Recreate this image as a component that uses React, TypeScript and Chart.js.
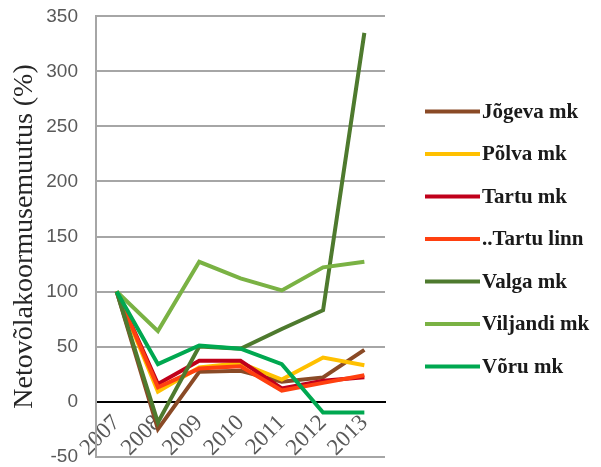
import React, { useEffect, useRef } from "react";
import { Chart, registerables } from "chart.js";

Chart.register(...registerables);

const years = ["2007", "2008", "2009", "2010", "2011", "2012", "2013"];
const seriesNames = ["Jõgeva mk", "Põlva mk", "Tartu mk", "..Tartu linn", "Valga mk", "Viljandi mk", "Võru mk"];
const jogeva = [100, -25, 27, 28, 18, 22, 47];
const polva = [100, 9, 31, 35, 20, 40, 33];
const tartuMk = [100, 16, 37, 37, 12, 19, 22];
const tartuLinn = [100, 13, 30, 32, 10, 17, 24];
const valga = [100, -19, 50, 48, 66, 83, 335];
const viljandi = [100, 64, 127, 112, 101, 122, 127];
const voru = [100, 34, 51, 48, 34, -10, -10];
const seriesColors = ["#8A4A26", "#FFC000", "#C0001A", "#FF4010", "#4E7A2E", "#7AB244", "#00A850"];
const yTicks = [-50, 0, 50, 100, 150, 200, 250, 300, 350];

const sideLegend = {
  id: "sideLegend",
  afterDraw(chart: any) {
    const ctx = chart.ctx;
    const area = chart.chartArea;
    const x0 = area.right + 40;
    const lineLen = 55;
    ctx.save();
    ctx.font = "bold 21px 'Liberation Serif', 'Times New Roman', serif";
    ctx.textBaseline = "middle";
    ctx.textAlign = "left";
    chart.data.datasets.forEach((ds: any, i: number) => {
      const y = area.top + 95 + i * 42.5;
      ctx.strokeStyle = ds.borderColor;
      ctx.lineWidth = 4;
      ctx.beginPath();
      ctx.moveTo(x0, y);
      ctx.lineTo(x0 + lineLen, y);
      ctx.stroke();
      ctx.fillStyle = "#1a1a1a";
      ctx.fillText(ds.label, x0 + lineLen + 2, y + 1);
    });
    ctx.restore();
  },
};

export default function App() {
  const ref = useRef<HTMLCanvasElement | null>(null);
  useEffect(() => {
    if (!ref.current) return;
    const allData = [jogeva, polva, tartuMk, tartuLinn, valga, viljandi, voru];
    const chart = new Chart(ref.current, {
      type: "line",
      data: {
        labels: years,
        datasets: allData.map((d, i) => ({
          label: seriesNames[i],
          data: d,
          borderColor: seriesColors[i],
          backgroundColor: seriesColors[i],
          borderWidth: 4,
          pointRadius: 0,
          tension: 0,
          order: allData.length - i,
        })),
      },
      plugins: [sideLegend],
      options: {
        animation: false,
        responsive: true,
        maintainAspectRatio: false,
        layout: { autoPadding: false, padding: { left: 8, top: 2, bottom: 8, right: 216 } },
        plugins: {
          tooltip: { enabled: false },
          legend: { display: false },
        },
        scales: {
          x: {
            type: "category",
            offset: true,
            position: { y: 0 } as any,
            grid: { display: false, drawTicks: false },
            border: { display: true, color: "#000000", width: 2 },
            ticks: {
              autoSkip: false,
              minRotation: 45,
              maxRotation: 45,
              padding: 8,
              color: "#595959",
              font: { family: "'Liberation Serif', 'Times New Roman', serif", size: 23 },
            },
          },
          y: {
            min: -50,
            max: 350,
            afterBuildTicks: (s: any) => {
              s.ticks = yTicks.map((v) => ({ value: v }));
            },
            afterFit: (s: any) => {
              s.width = 88;
            },
            grid: { color: "#A6A6A6", lineWidth: 2, drawTicks: false },
            border: { display: true, color: "#A6A6A6", width: 2 },
            ticks: {
              padding: 18,
              color: "#595959",
              font: { family: "'Liberation Sans', Arial, sans-serif", size: 19 },
            },
            title: {
              display: true,
              text: "Netovõlakoormusemuutus (%)",
              color: "#262626",
              padding: { top: 0, bottom: 6 },
              font: { family: "'Liberation Serif', 'Times New Roman', serif", size: 28 },
            },
          },
        },
      },
    });
    return () => chart.destroy();
  }, []);
  return (
    <div style={{ position: "absolute", left: 0, top: 0, width: 601, height: 467, overflow: "hidden", background: "#fff" }}>
      <div style={{ position: "absolute", left: 0, top: -13, width: 601, height: 499 }}>
        <canvas ref={ref} />
      </div>
    </div>
  );
}
